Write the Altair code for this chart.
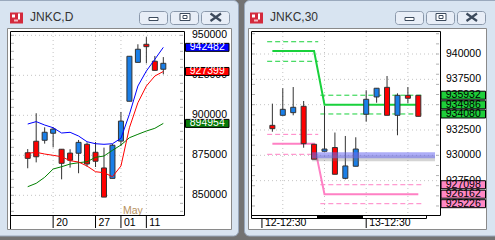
import altair as alt
import pandas as pd

# ================= DATA =================
# ---- JNKC,D (daily) ----
d_open  = [876600, 883800, 884400, 888800, 878800, 876400, 876300, 881900, 876900, 867100, 860600, 883900, 908800, 933100, 944400, 933800, 928800]
d_high  = [878900, 901300, 892500, 892500, 878900, 878800, 884600, 883100, 883300, 879800, 882100, 902100, 936900, 944400, 948900, 937100, 936400]
d_low   = [866900, 870600, 882300, 880000, 860000, 867300, 863800, 867900, 867700, 848900, 860600, 880800, 908800, 933100, 932500, 928100, 925600]
d_close = [873100, 874100, 889400, 891400, 870000, 871900, 883100, 869600, 871300, 848900, 881300, 896400, 936900, 941300, 942900, 928100, 932500]
d_ma_blue  = [894560, 896060, 893940, 892250, 888940, 889380, 887060, 883500, 882250, 881880, 882250, 885630, 900630, 918310, 927690, 935000, 942482]
d_ma_red   = [876250, 876880, 875810, 875000, 874130, 871630, 870810, 868310, 864750, 864130, 861630, 868310, 892250, 907880, 918310, 924560, 927399]
d_ma_green = [855380, 857500, 861250, 866440, 867880, 869560, 870380, 871000, 873750, 874560, 878130, 881440, 886000, 888130, 890190, 891880, 894954]
d_tag_blue, d_tag_red, d_tag_green = [942482], [927399], [894954]
d_ytick = [950000, 925000, 900000, 875000, 850000]
d_minor = list(range(840000, 955000, 5000))
d_xtick_idx = [3, 8, 11, 14]
d_xtick_lbl = ["20", "27", "01", "11"]
d_month_idx = [11]
d_month_lbl = ["May"]

# ---- JNKC,30 (30 minutes) ----
m_open  = [932960, 933950, 934210, 934840, 931090, 930400, 930770, 927730, 928920, 934050, 935760, 936710, 933950, 935920, 935920]
m_high  = [935100, 936620, 936740, 935360, 931090, 934870, 932250, 931910, 931780, 936420, 936620, 937830, 936120, 936740, 935920]
m_low   = [932330, 933950, 933950, 930750, 929610, 930400, 928130, 927630, 928920, 933320, 935190, 933950, 931980, 935130, 933850]
m_close = [932630, 934540, 934740, 931150, 929610, 930620, 928130, 928950, 930620, 935530, 936620, 933950, 935920, 935630, 933850]
m_green_mid = [940300, 940300, 940300, 940300, 940300, 934986, 934986, 934986, 934986, 934986, 934986, 934986, 934986, 934986, 934986]
m_pink_mid  = [931150, 931150, 931150, 931150, 931150, 926162, 926162, 926162, 926162, 926162, 926162, 926162, 926162, 926162, 926162]
m_seg_start = [-0.5, -0.5, -0.5, -0.5, 4.6, 4.6, 4.6, 4.6]
m_seg_end   = [4.4, 4.4, 4.4, 4.4, 14.45, 14.45, 14.45, 14.45]
m_seg_lvl   = [941210, 939280, 932070, 930100, 935932, 934080, 927098, 925226]
m_seg_kind  = ["g", "g", "p", "p", "g", "g", "p", "p"]
m_band_start, m_band_end, m_band_lvl = [3.8], [15.6], [930000]
m_tag_green = [935932, 934986, 934080]
m_tag_pink  = [927098, 926162, 925226]
m_ytick = [940000, 937500, 935000, 932500, 930000, 927500]
m_minor = list(range(925000, 942001, 1000))
m_xtick_idx = [-1, 9]
m_xtick_lbl = ["12-12:30", "13-12:30"]
m_vgrid = [1, 5, 9, 13]

# ================= STYLE =================
FONT = "Liberation Sans"
BLUE, RED, WICK = "#1a7fe8", "#ff0000", "#333333"
GREEN_L, PINK_L = "#19d13c", "#ff80c4"
FRAME, FRAME_STROKE, GAP = "#d8e4f1", "#9aa9bd", "#737373"
BTN, BTN_STROKE, GLYPH = "#e8eef7", "#8a98ab", "#3c4a5c"

DX = alt.Scale(domain=[-1.5, 17.85], range=[10, 184], zero=False, nice=False)
DY = alt.Scale(domain=[837700, 952700], range=[215, 31], zero=False, nice=False)
MX = alt.Scale(domain=[-1.57, 15.6], range=[251, 440], zero=False, nice=False)
MY = alt.Scale(domain=[924110, 942270], range=[215, 31], zero=False, nice=False)

ONE = pd.DataFrame({"k": [0]})


def xq(f, S):
    return alt.X(f"{f}:Q", scale=S, axis=None)


def yq(f, S):
    return alt.Y(f"{f}:Q", scale=S, axis=None)


def crect(x1, y1, x2, y2, fill, stroke=None, sw=1, r=0, filled=True):
    kw = {}
    if filled:
        kw["fill"] = fill
    else:
        kw["filled"] = False
    if stroke:
        kw["stroke"] = stroke
        kw["strokeWidth"] = sw
    if r:
        kw["cornerRadius"] = r
    return alt.Chart(ONE).mark_rect(**kw).encode(
        x=alt.value(x1), x2=alt.value(x2), y=alt.value(y1), y2=alt.value(y2))


def cline(x1, y1, x2, y2, color, sw=1):
    return alt.Chart(ONE).mark_rule(color=color, strokeWidth=sw).encode(
        x=alt.value(x1), x2=alt.value(x2), y=alt.value(y1), y2=alt.value(y2))


def ctext(x, y, txt, size=12, color="#333333"):
    return alt.Chart(ONE).mark_text(text=txt, align="left", baseline="middle", font=FONT,
                                    fontSize=size, color=color).encode(x=alt.value(x), y=alt.value(y))


def candles(o, h, l, c, X, Y):
    df = pd.DataFrame({"i": list(range(len(o))), "open": o, "high": h, "low": l, "close": c})
    b = alt.Chart(df)
    wick = b.mark_rule(color=WICK, strokeWidth=1).encode(x=xq("i", X), y=yq("low", Y), y2="high:Q")
    body = b.mark_bar(size=5, stroke=WICK, strokeWidth=1).encode(
        x=xq("i", X), y=yq("open", Y), y2="close:Q",
        fill=alt.condition("datum.close >= datum.open", alt.value(BLUE), alt.value(RED)))
    return [wick, body]


def series(vals, X, Y, color, sw=1):
    df = pd.DataFrame({"i": list(range(len(vals))), "v": vals})
    return alt.Chart(df).mark_line(color=color, strokeWidth=sw).encode(x=xq("i", X), y=yq("v", Y))


def tags(vals, Y, x1, x2, fill, txt):
    df = pd.DataFrame({"v": vals})
    r = alt.Chart(df).mark_rect(fill=fill, stroke="#000000", strokeWidth=1, yOffset=-4, y2Offset=4).encode(
        x=alt.value(x1), x2=alt.value(x2), y=yq("v", Y), y2="v:Q")
    t = alt.Chart(df).mark_text(align="center", baseline="middle", font=FONT, fontSize=10.5, color=txt).encode(
        x=alt.value((x1 + x2) / 2), y=yq("v", Y), text=alt.Text("v:Q", format="d"))
    return [r, t]


def ylabels(vals, Y, x):
    df = pd.DataFrame({"v": vals})
    return alt.Chart(df).mark_text(align="left", baseline="middle", font=FONT, fontSize=10.5, color="#000000").encode(
        x=alt.value(x), y=yq("v", Y), text=alt.Text("v:Q", format="d"))


def xlabels(idx, lbl, X, ytop):
    df = pd.DataFrame({"i": idx, "lbl": lbl})
    t = alt.Chart(df).mark_text(align="left", baseline="middle", dx=3, font=FONT, fontSize=10.5, color="#000000").encode(
        x=xq("i", X), y=alt.value(222.5), text="lbl:N")
    k = alt.Chart(df).mark_rule(color="#000000").encode(x=xq("i", X), y=alt.value(ytop), y2=alt.value(228))
    return [t, k]


def hgrid(vals, Y, x1, x2):
    return alt.Chart(pd.DataFrame({"v": vals})).mark_rule(color="#c4c4c4", strokeDash=[1, 3]).encode(
        x=alt.value(x1), x2=alt.value(x2), y=yq("v", Y))


def vgrid(idx, X):
    return alt.Chart(pd.DataFrame({"i": idx})).mark_rule(color="#c4c4c4", strokeDash=[1, 3]).encode(
        x=xq("i", X), y=alt.value(32), y2=alt.value(214))


def minor(vals, Y, x1, x2):
    return alt.Chart(pd.DataFrame({"v": vals})).mark_rule(color="#b0b0b0").encode(
        x=alt.value(x1), x2=alt.value(x2), y=yq("v", Y))


# ================= LEFT PANEL =================
month = alt.Chart(pd.DataFrame({"i": d_month_idx, "lbl": d_month_lbl})).mark_text(
    align="left", baseline="middle", dx=2, font=FONT, fontSize=10.5, color="#b8925e").encode(
    x=xq("i", DX), y=alt.value(211), text="lbl:N")

left = alt.layer(
    hgrid(d_ytick, DY, 11, 183), vgrid(d_xtick_idx, DX),
    minor(d_minor, DY, 11, 14), minor(d_minor, DY, 180, 183),
    *candles(d_open, d_high, d_low, d_close, DX, DY),
    series(d_ma_green, DX, DY, "#008000"),
    series(d_ma_red, DX, DY, "#ff0000"),
    series(d_ma_blue, DX, DY, "#0000ff"),
    month,
    ylabels(d_ytick, DY, 192),
    *xlabels(d_xtick_idx, d_xtick_lbl, DX, 215),
    *tags(d_tag_blue, DY, 185.5, 229, "#0000ff", "#ffffff"),
    *tags(d_tag_red, DY, 185.5, 229, "#ff0000", "#ffffff"),
    *tags(d_tag_green, DY, 185.5, 229, "#087a08", "#ffffff"),
)

# ================= RIGHT PANEL =================
seg_df = pd.DataFrame({"s": m_seg_start, "e": m_seg_end, "lvl": m_seg_lvl, "kind": m_seg_kind})
segs = alt.Chart(seg_df).mark_rule(strokeWidth=1, strokeDash=[5, 3]).encode(
    x=xq("s", MX), x2="e:Q", y=yq("lvl", MY),
    color=alt.condition("datum.kind == 'g'", alt.value(GREEN_L), alt.value(PINK_L)))
band_df = pd.DataFrame({"s": m_band_start, "e": m_band_end, "lvl": m_band_lvl})
band_shadow = alt.Chart(band_df).mark_rule(strokeWidth=6, color="#707070", opacity=0.3, yOffset=3).encode(
    x=xq("s", MX), x2="e:Q", y=yq("lvl", MY))
band = alt.Chart(band_df).mark_rule(strokeWidth=6, color="#6a6af0", opacity=0.55).encode(
    x=xq("s", MX), x2="e:Q", y=yq("lvl", MY))

right = alt.layer(
    hgrid(m_ytick, MY, 252, 439), vgrid(m_vgrid, MX),
    minor(m_minor, MY, 252, 255), minor(m_minor, MY, 436, 439),
    segs,
    series(m_green_mid, MX, MY, GREEN_L, 2),
    series(m_pink_mid, MX, MY, PINK_L, 2),
    *candles(m_open, m_high, m_low, m_close, MX, MY),
    band_shadow, band,
    ylabels(m_ytick, MY, 446),
    *xlabels(m_xtick_idx, m_xtick_lbl, MX, 218),
    *tags(m_tag_green, MY, 441, 485.5, "#1ecf3a", "#000000"),
    *tags(m_tag_pink, MY, 441, 485.5, "#ff88c4", "#000000"),
)

# ================= WINDOW CHROME =================
bg = [
    crect(-5, 0.5, 238.5, 236, FRAME, FRAME_STROKE, 1, 5),
    crect(244.5, 0.5, 500, 236, FRAME, FRAME_STROKE, 1, 5),
    crect(7.5, 28.5, 231.5, 229.5, "#ffffff", "#8a8a8a"),
    crect(248.5, 28.5, 486.5, 229.5, "#ffffff", "#8a8a8a"),
]


def window_top(icon_x, title_x, title, btn_x):
    items = [
        crect(icon_x, 12.5, icon_x + 13, 23.5, "#d42a3c"),
        crect(icon_x + 2, 14.5, icon_x + 5, 17.5, "#ffffff"),
        crect(icon_x + 8, 13.5, icon_x + 10, 19.5, "#ffffff"),
        crect(icon_x + 4, 19.5, icon_x + 8, 21.5, "#f4b8c0"),
        ctext(title_x, 16.5, title, 12, "#333333"),
    ]
    mn, mx, cl = btn_x
    items += [
        crect(mn, 11.5, mn + 28, 24.5, BTN, BTN_STROKE, 1, 3),
        crect(mx, 11.5, mx + 28, 24.5, BTN, BTN_STROKE, 1, 3),
        crect(cl, 11.5, cl + 28, 24.5, BTN, BTN_STROKE, 1, 3),
        crect(mn + 9.5, 17.5, mn + 18.5, 20.5, "#ffffff", GLYPH),
        crect(mx + 9.5, 13.5, mx + 19.5, 20.5, "#ffffff", GLYPH),
        crect(mx + 12.5, 15.5, mx + 16.5, 18.5, "#ffffff", GLYPH),
        cline(cl + 9, 13.5, cl + 19.5, 21, GLYPH, 2.2),
        cline(cl + 19.5, 13.5, cl + 9, 21, GLYPH, 2.2),
    ]
    return items


fg = [
    crect(10.5, 31.5, 184.5, 215.5, "#000000", "#000000", 1, 0, False),
    cline(10.5, 215, 10.5, 229, "#000000"),
    crect(251.5, 215.5, 426.5, 218.5, "#ffffff", "#000000"),
    crect(317, 215.5, 363, 218.5, "#000000"),
    crect(251.5, 31.5, 440.5, 215.5, "#000000", "#000000", 1, 0, False),
    *window_top(10, 30, "JNKC,D", (139.5, 170.5, 201.5)),
    *window_top(250, 270, "JNKC,30", (395.5, 426.5, 457.5)),
]

chart = alt.layer(*bg, left, right, *fg).resolve_scale(
    x="independent", y="independent"
).properties(
    width=495, height=240, padding=0,
    autosize=alt.AutoSizeParams(type="none"),
    background=GAP,
).configure_view(stroke=None).configure_axis(disable=True)

chart.save("out.html", embed_options={"renderer": "svg", "actions": False})
